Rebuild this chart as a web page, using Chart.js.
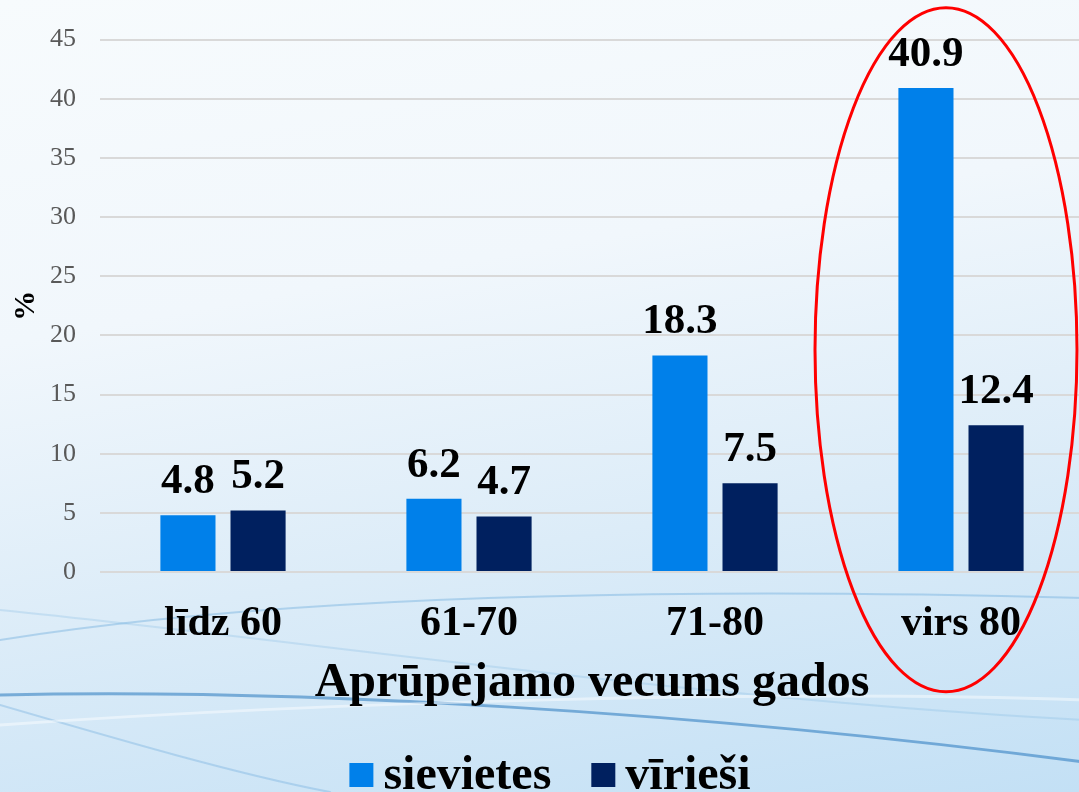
<!DOCTYPE html>
<html>
<head>
<meta charset="utf-8">
<script src="https://cdn.jsdelivr.net/npm/chart.js@4"></script>
<style>
  html, body { margin: 0; padding: 0; overflow: hidden; }
  body {
    width: 1079px; height: 792px;
    background: linear-gradient(170deg, #f7fbfd 0%, #f1f7fc 35%, #dcecf8 65%, #c3e0f5 100%);
  }
  #chartBox { position: relative; width: 1084px; height: 792px; }
</style>
</head>
<body>
<div id="chartBox"><canvas id="ageChart"></canvas></div>
<script>
const categories = ['līdz 60', '61-70', '71-80', 'virs 80'];
const womenValues = [4.8, 6.2, 18.3, 40.9];
const menValues = [5.2, 4.7, 7.5, 12.4];
const seriesNames = ['sievietes', 'vīrieši'];
const yTicks = [0, 5, 10, 15, 20, 25, 30, 35, 40, 45];

const SERIF = '"Liberation Serif", "Times New Roman", serif';

document.addEventListener('DOMContentLoaded', () => {
    const canvas = document.getElementById('ageChart');

    // fona līknes
    const swirls = {
        id: 'swirls',
        beforeDraw(chart) {
            const ctx = chart.ctx;
            ctx.save();
            ctx.lineCap = 'round';
            const curves = [
                { c: 'rgba(40,120,190,0.55)', w: 3, p: [0, 695, 300, 688, 700, 712, 1084, 762] },
                { c: 'rgba(90,160,215,0.35)', w: 2, p: [0, 640, 250, 600, 600, 585, 1084, 598] },
                { c: 'rgba(90,160,215,0.30)', w: 2, p: [0, 705, 120, 740, 240, 775, 330, 792] },
                { c: 'rgba(120,180,225,0.25)', w: 2, p: [0, 610, 300, 640, 700, 700, 1084, 720] },
                { c: 'rgba(255,255,255,0.45)', w: 3, p: [0, 725, 350, 700, 800, 690, 1084, 700] }
            ];
            curves.forEach(k => {
                ctx.strokeStyle = k.c;
                ctx.lineWidth = k.w;
                ctx.beginPath();
                ctx.moveTo(k.p[0], k.p[1]);
                ctx.bezierCurveTo(k.p[2], k.p[3], k.p[4], k.p[5], k.p[6], k.p[7]);
                ctx.stroke();
            });
            ctx.restore();
        }
    };

    // vērtības virs stabiņiem
    const barValues = {
        id: 'barValues',
        afterDatasetsDraw(chart) {
            const ctx = chart.ctx;
            ctx.save();
            ctx.font = 'bold 43px ' + SERIF;
            ctx.fillStyle = '#000';
            ctx.textAlign = 'center';
            ctx.textBaseline = 'alphabetic';
            chart.data.datasets.forEach((ds, i) => {
                chart.getDatasetMeta(i).data.forEach((bar, j) => {
                    ctx.fillText(ds.data[j].toFixed(1), bar.x, bar.y - 22);
                });
            });
            ctx.restore();
        }
    };

    // sarkanā elipse ap pēdējo grupu
    const highlight = {
        id: 'highlight',
        afterDraw(chart) {
            const x = chart.scales.x, y = chart.scales.y;
            const cx = x.getPixelForValue(categories.length - 1) - 15;
            const cy = (y.getPixelForValue(0) + y.getPixelForValue(45)) / 2 + 44;
            const ctx = chart.ctx;
            ctx.save();
            ctx.strokeStyle = '#ff0000';
            ctx.lineWidth = 3;
            ctx.beginPath();
            ctx.ellipse(cx, cy, 131, 342, 0, 0, Math.PI * 2);
            ctx.stroke();
            ctx.restore();
        }
    };

    // leģenda apakšā
    const bottomLegend = {
        id: 'bottomLegend',
        afterDraw(chart) {
            const ctx = chart.ctx;
            ctx.save();
            ctx.font = 'bold 48px ' + SERIF;
            const box = 24, gap = 10, between = 40;
            const widths = seriesNames.map(n => ctx.measureText(n).width);
            const total = widths.reduce((a, w) => a + box + gap + w, 0) + between * (seriesNames.length - 1);
            let x = chart.width / 2 + 8 - total / 2;
            const base = 789;
            chart.data.datasets.forEach((ds, i) => {
                ctx.fillStyle = ds.backgroundColor;
                ctx.fillRect(x, base - 26, box, box);
                ctx.fillStyle = '#000';
                ctx.textAlign = 'left';
                ctx.textBaseline = 'alphabetic';
                ctx.fillText(ds.label, x + box + gap, base);
                x += box + gap + widths[i] + between;
            });
            ctx.restore();
        }
    };

    new Chart(canvas, {
        type: 'bar',
        data: {
            labels: categories,
            datasets: [{
                label: seriesNames[0],
                data: womenValues,
                backgroundColor: '#0080ea',
                categoryPercentage: 0.57,
                barPercentage: 0.786
            }, {
                label: seriesNames[1],
                data: menValues,
                backgroundColor: '#00205f',
                categoryPercentage: 0.57,
                barPercentage: 0.786
            }]
        },
        options: {
            responsive: true,
            maintainAspectRatio: false,
            animation: false,
            layout: { padding: { top: 39, right: 0, bottom: 76, left: 0 } },
            plugins: {
                legend: { display: false },
                tooltip: { enabled: false }
            },
            scales: {
                x: {
                    grid: { display: false },
                    border: { display: false },
                    ticks: {
                        color: '#000',
                        padding: 19,
                        font: { family: SERIF, size: 42, weight: 'bold' }
                    },
                    title: {
                        display: true,
                        text: 'Aprūpējamo vecums gados',
                        color: '#000',
                        font: { family: SERIF, size: 48, weight: 'bold' },
                        padding: { top: 4, bottom: 4 }
                    },
                    afterFit(scale) { scale.height = 144; }
                },
                y: {
                    min: 0,
                    max: 45,
                    afterBuildTicks(scale) { scale.ticks = yTicks.map(v => ({ value: v })); },
                    grid: { color: '#d9d9d9', lineWidth: 2, drawTicks: false },
                    border: { display: false },
                    ticks: {
                        color: '#595959',
                        padding: 24,
                        font: { family: SERIF, size: 26 }
                    },
                    title: {
                        display: true,
                        text: '%',
                        color: '#000',
                        font: { family: SERIF, size: 30, weight: 'bold' },
                        padding: { top: 8, bottom: 4 }
                    },
                    afterFit(scale) { scale.width = 100; }
                }
            }
        },
        plugins: [swirls, barValues, highlight, bottomLegend]
    });
});
</script>
</body>
</html>
